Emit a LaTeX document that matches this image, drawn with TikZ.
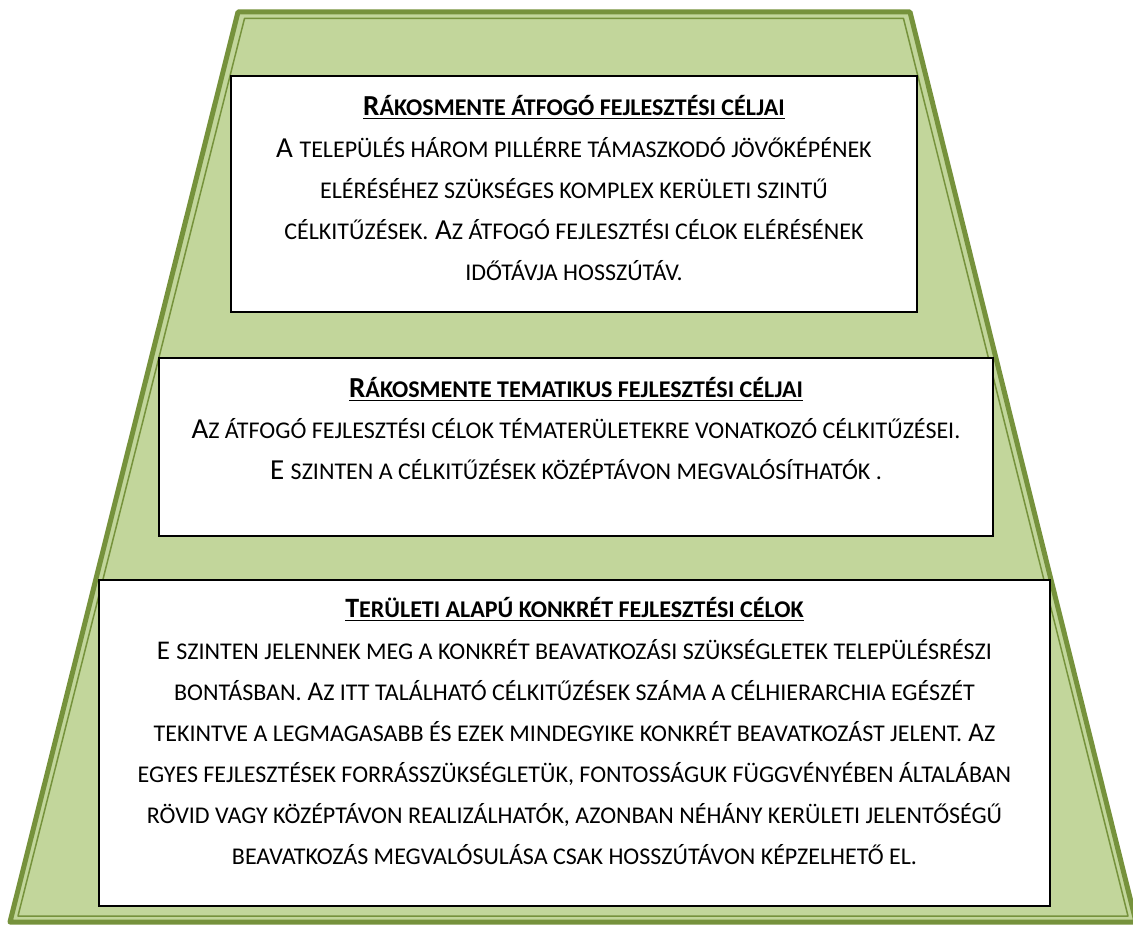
\documentclass[tikz,border=0pt]{standalone}
\usepackage{fontspec}
\setmainfont{Carlito}
\definecolor{olivefill}{HTML}{C2D69B}
\definecolor{oliveline}{HTML}{76923C}
% small caps faked the way the word processor does it
\newcommand\sk[1]{{\fontsize{24}{41}\selectfont #1}}
\newcommand\hdline[1]{\setbox0\hbox{#1}\rlap{\rule[-4pt]{\wd0}{1.8pt}}\box0}
\begin{document}
\begin{tikzpicture}[x=1pt,y=-1pt,
    box/.style={draw=black,line width=2pt,fill=white,inner sep=0pt},
    txt/.style={align=center,inner sep=0pt,anchor=north,font=\fontsize{29}{41}\selectfont}]
  \useasboundingbox (0,0) rectangle (1133,925);
  \clip (0,0) rectangle (1133,925);

  % the trapezoid with its double border
  \filldraw[fill=olivefill,draw=oliveline,line width=5pt,line join=round]
    (238,12) -- (910,12) -- (1136,922) -- (10,922) -- cycle;
  \draw[oliveline,line width=1.5pt,line join=round]
    (244.5,18.5) -- (903.5,18.5) -- (1128,916) -- (18,916) -- cycle;

  % level 1
  \node[box,minimum width=686,minimum height=236] (atfogo) at (574,194) {};
  \node[txt] (atfogotxt) at (574,95) {%
    \textbf{\hdline{R\sk{ÁKOSMENTE ÁTFOGÓ FEJLESZTÉSI CÉLJAI}}}\\[1pt]
    A \sk{TELEPÜLÉS HÁROM PILLÉRRE TÁMASZKODÓ JÖVŐKÉPÉNEK}\\
    \sk{ELÉRÉSÉHEZ SZÜKSÉGES KOMPLEX KERÜLETI SZINTŰ}\\
    \sk{CÉLKITŰZÉSEK.} A\sk{Z ÁTFOGÓ FEJLESZTÉSI CÉLOK ELÉRÉSÉNEK}\\
    \sk{IDŐTÁVJA HOSSZÚTÁV.}};

  % level 2
  \node[box,minimum width=834,minimum height=178] (tematikus) at (576,447) {};
  \node[txt] (tematikustxt) at (576,377) {%
    \textbf{\hdline{R\sk{ÁKOSMENTE TEMATIKUS FEJLESZTÉSI CÉLJAI}}}\\
    A\sk{Z ÁTFOGÓ FEJLESZTÉSI CÉLOK TÉMATERÜLETEKRE VONATKOZÓ CÉLKITŰZÉSEI.}\\
    E \sk{SZINTEN A CÉLKITŰZÉSEK KÖZÉPTÁVON MEGVALÓSÍTHATÓK .}};

  % level 3
  \node[box,minimum width=951,minimum height=326] (teruleti) at (574.5,743) {};
  \node[txt,font=\fontsize{27}{41}\selectfont] (teruletitxt) at (574.5,597) {%
    \textbf{\fontsize{28}{41}\selectfont\hdline{T\sk{ERÜLETI ALAPÚ KONKRÉT FEJLESZTÉSI CÉLOK}}}\\[1pt]
    E \sk{SZINTEN JELENNEK MEG A KONKRÉT BEAVATKOZÁSI SZÜKSÉGLETEK TELEPÜLÉSRÉSZI}\\
    \sk{BONTÁSBAN.} A\sk{Z ITT TALÁLHATÓ CÉLKITŰZÉSEK SZÁMA A CÉLHIERARCHIA EGÉSZÉT}\\
    \sk{TEKINTVE A LEGMAGASABB ÉS EZEK MINDEGYIKE KONKRÉT BEAVATKOZÁST JELENT.} A\sk{Z}\\
    \sk{EGYES FEJLESZTÉSEK FORRÁSSZÜKSÉGLETÜK, FONTOSSÁGUK FÜGGVÉNYÉBEN ÁLTALÁBAN}\\
    \sk{RÖVID VAGY KÖZÉPTÁVON REALIZÁLHATÓK, AZONBAN NÉHÁNY KERÜLETI JELENTŐSÉGŰ}\\
    \sk{BEAVATKOZÁS MEGVALÓSULÁSA CSAK HOSSZÚTÁVON KÉPZELHETŐ EL.}};
\end{tikzpicture}
\end{document}
